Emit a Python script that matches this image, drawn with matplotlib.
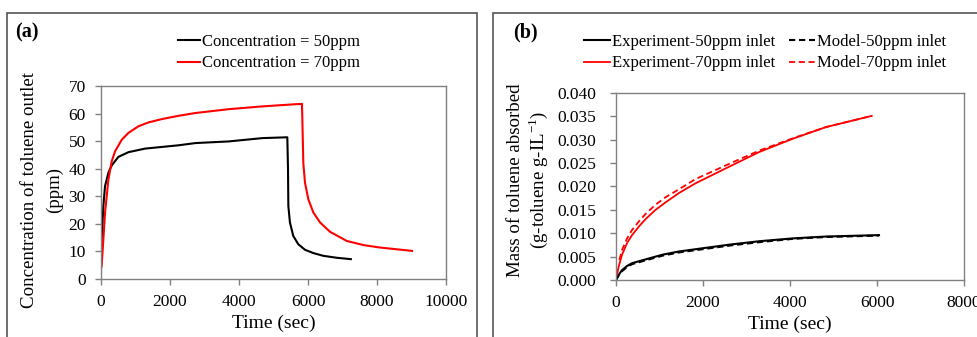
import numpy as np
import matplotlib.pyplot as plt
from matplotlib.patches import Rectangle
from matplotlib.ticker import FormatStrFormatter

plt.rcParams['font.family'] = ['Liberation Serif', 'DejaVu Serif']
plt.rcParams['font.size'] = 12
plt.rcParams['mathtext.fontset'] = 'custom'
plt.rcParams['mathtext.rm'] = 'Liberation Serif'

# (a) outlet concentration (ppm) vs time (sec)
t50 = [0, 19, 68, 116, 213, 310, 504, 795, 1280, 1765, 2250, 2735, 3705, 4190, 4675, 5400,
       5420, 5430, 5476, 5573, 5719, 5913, 6155, 6446, 6834, 7242]
c50 = [4, 14.4, 26.5, 33.7, 38.5, 41.2, 44.3, 46, 47.3, 47.9, 48.5, 49.3, 49.9, 50.5, 51.1, 51.4,
       40, 26.5, 20.5, 15.6, 12.6, 10.6, 9.4, 8.4, 7.7, 7.2]
t70 = [0, 19, 116, 213, 310, 407, 600, 795, 1086, 1377, 1765, 2250, 2735, 3705, 4675, 5645,
       5825, 5850, 5864, 5913, 6010, 6155, 6350, 6640, 7125, 7610, 8095, 9017]
c70 = [4, 4.8, 24, 36, 42.7, 46.3, 50.5, 53, 55.4, 56.8, 58, 59.2, 60.2, 61.6, 62.6, 63.4,
       63.5, 50, 42, 34.9, 28.9, 24.1, 20.5, 17.1, 13.8, 12.3, 11.4, 10.2]

# (b) mass of toluene absorbed vs time (sec)
tb70 = [0, 62, 138, 254, 369, 523, 677, 908, 1138, 1446, 1831, 2638, 3298, 4061, 4825, 5878]
exp70 = [0, 0.0029, 0.0054, 0.0079, 0.0096, 0.0114, 0.0130, 0.0150, 0.0166, 0.0186, 0.0207,
         0.0244, 0.0274, 0.0302, 0.0327, 0.0351]
tm70 = [77, 138, 254, 369, 523, 677, 908, 1138, 1446, 1831, 2638, 3298, 4061, 4825, 5878]
mod70 = [0.0043, 0.0064, 0.0089, 0.0107, 0.0125, 0.0141, 0.0161, 0.0177, 0.0194, 0.0216,
         0.0250, 0.0277, 0.0303, 0.0327, 0.0351]
tb50 = [0, 62, 138, 254, 369, 677, 1062, 1446, 2000, 2638, 3298, 4061, 4825, 6046]
exp50 = [0, 0.0011, 0.0021, 0.0030, 0.0036, 0.0044, 0.0054, 0.0061, 0.0068, 0.0076,
         0.0083, 0.0089, 0.0093, 0.0096]
mod50 = [0, 0.0010, 0.0019, 0.0028, 0.0034, 0.0042, 0.0052, 0.0059, 0.0066, 0.0074,
         0.0081, 0.0088, 0.0092, 0.0095]

fig = plt.figure(figsize=(9.77, 3.37), dpi=100)

# panel frames
fig.add_artist(Rectangle((0.0072, -0.05), 0.481, 1.011, transform=fig.transFigure,
                         fill=False, edgecolor='#555555', linewidth=1.2))
fig.add_artist(Rectangle((0.5046, -0.05), 0.55, 1.011, transform=fig.transFigure,
                         fill=False, edgecolor='#555555', linewidth=1.2))


def style(ax, pad):
    for s in ax.spines.values():
        s.set_color('#808080')
        s.set_linewidth(1.0)
    ax.tick_params(direction='out', color='#808080', length=4, width=1.0, labelsize=12.5)
    ax.tick_params(axis='y', pad=pad)
    ax.tick_params(axis='x', pad=7)


def ylabel(lines, xs, y):
    for txt, x in zip(lines, xs):
        fig.text(x / 977, 1 - y / 337, txt, rotation=90, fontsize=13.6, ha='center', va='center')


ax1 = fig.add_axes([0.1034, 0.1721, 0.3531, 0.5727])
ax1.plot(t50, c50, color='black', lw=1.5, label='Concentration = 50ppm')
ax1.plot(t70, c70, color='#ff0000', lw=1.5, label='Concentration = 70ppm')
ax1.set_xlim(0, 10000)
ax1.set_ylim(0, 70)
ax1.set_xticks(np.arange(0, 10001, 2000))
ax1.set_yticks(np.arange(0, 71, 10))
ax1.set_xlabel('Time (sec)', fontsize=14, labelpad=3)
style(ax1, 7)
ylabel(['Concentration of toluene outlet', '(ppm)'], [29.5, 54], 190)
ax1.legend(loc='upper left', bbox_to_anchor=(0.174, 0.925), bbox_transform=fig.transFigure,
           frameon=False, handlelength=1.3, handletextpad=0.1, labelspacing=0.35, borderpad=0,
           fontsize=12)
fig.text(0.015, 0.905, '(a)', fontsize=14.5, fontweight='bold', va='center')

ax2 = fig.add_axes([0.6305, 0.1691, 0.3562, 0.555])
ax2.plot(tb50, exp50, color='black', lw=1.5, label='Experiment-50ppm inlet')
ax2.plot(tb70, exp70, color='#ff0000', lw=1.3, label='Experiment-70ppm inlet')
ax2.plot(tb50, mod50, color='black', lw=1.5, ls=(0, (3, 1.8)), label='Model-50ppm inlet')
ax2.plot(tm70, mod70, color='#ff0000', lw=1.3, ls=(0, (3.4, 2)), label='Model-70ppm inlet')
ax2.set_xlim(0, 8000)
ax2.set_ylim(0, 0.04)
ax2.set_xticks(np.arange(0, 8001, 2000))
ax2.set_yticks(np.arange(0, 0.0401, 0.005))
ax2.yaxis.set_major_formatter(FormatStrFormatter('%.3f'))
ax2.set_xlabel('Time (sec)', fontsize=14, labelpad=3)
style(ax2, 10)
ylabel(['Mass of toluene absorbed', '(g-toluene g-IL$^{\\mathregular{-1}}$)'], [515, 538], 180)
ax2.legend(loc='upper left', bbox_to_anchor=(0.589, 0.925), bbox_transform=fig.transFigure, ncol=2,
           frameon=False, handlelength=1.6, handletextpad=0.1, labelspacing=0.35, borderpad=0,
           columnspacing=0.8, fontsize=12)
fig.text(0.525, 0.905, '(b)', fontsize=14.5, fontweight='bold', va='center')

fig.savefig('out.png', dpi=100)
